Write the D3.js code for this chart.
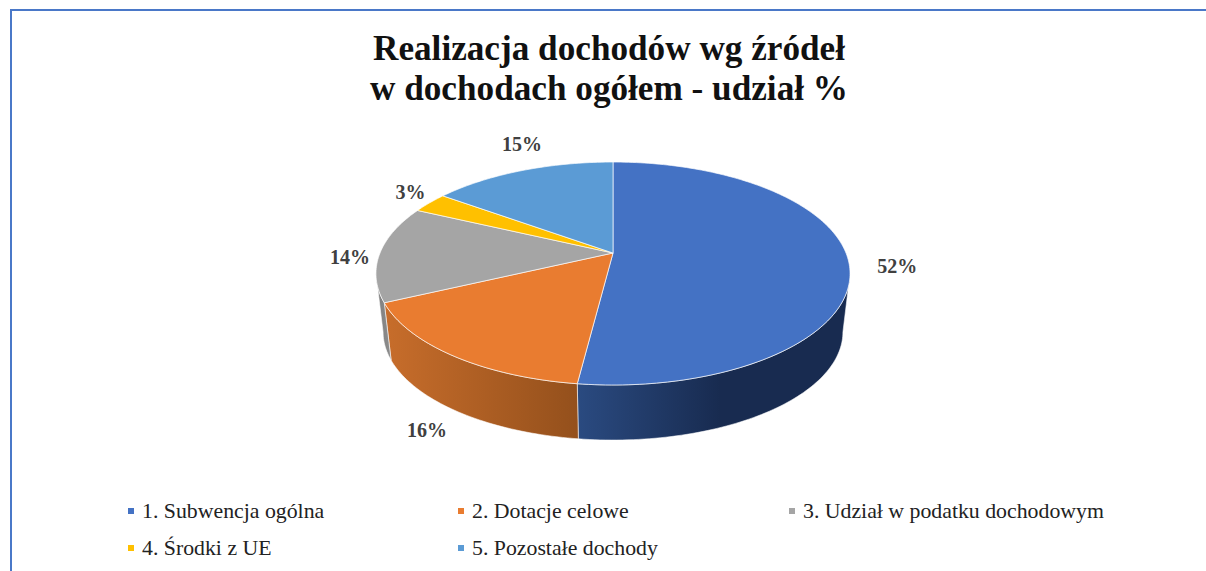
<!DOCTYPE html>
<html>
<head>
<meta charset="utf-8">
<script src="https://cdn.jsdelivr.net/npm/d3@7"></script>
<style>
  html, body { margin: 0; padding: 0; background: #fff; }
  svg { display: block; font-family: "Liberation Serif", serif; }
</style>
</head>
<body>
<svg id="chart"></svg>
<script>
// Chart data
var categories = ["1. Subwencja ogólna", "2. Dotacje celowe", "3. Udział w podatku dochodowym", "4. Środki z UE", "5. Pozostałe dochody"];
var values = [52, 16, 14, 3, 15];
var colors = ["#4472c4", "#e97c30", "#a5a5a5", "#ffc000", "#5b9bd5"];
var titleLines = ["Realizacja dochodów wg źródeł", "w dochodach ogółem - udział %"];

// SVG size params
var width = 1206;
var height = 571;

var svg = d3.select("#chart")
            .attr("width", width)
            .attr("height", height);

// Frame (only top and left edges are in the picture)
svg.append("path")
    .attr("d", "M11,571V10H1206")
    .attr("fill", "none")
    .attr("stroke", "#4a78c8")
    .attr("stroke-width", 2);

// Title
svg.append("g").selectAll("text")
    .data(titleLines)
  .enter().append("text")
    .attr("x", 609)
    .attr("y", (d, i) => 60 + i * 40)
    .attr("text-anchor", "middle")
    .attr("font-size", 35.2)
    .attr("font-weight", "bold")
    .attr("fill", "#111")
    .text(d => d);

// Perspective projection of the pie disc, k tilts the far edge away
var cx = 613, k = 0.184;
var topRim = {y0: 253, a: 233, b: 107.7};
var lowRim = {y0: 312, a: 226, b: 104.5};

function project(rim, theta, r) {
  var s = Math.sin(theta) * (r === undefined ? 1 : r);
  var c = Math.cos(theta) * (r === undefined ? 1 : r);
  var w = 1 + k * c;
  return [cx + rim.a * s / w, rim.y0 - rim.b * c / w];
}

function rimPoints(rim, a0, a1) {
  var n = Math.max(2, Math.ceil(Math.abs(a1 - a0) / 0.02));
  return d3.range(n + 1).map(i => project(rim, a0 + (a1 - a0) * i / n));
}

var line = d3.line();
var pie = d3.pie().sort(null).value(d => d);
var arcs = pie(values);

// Visible part of the outer wall runs between the two silhouette tangents
var wallStart = Math.acos(-k);
var wallEnd = 2 * Math.PI - wallStart;

// Wall gradients
var defs = svg.append("defs");
var wallStops = [
  [[579, "#2a4a80"], [720, "#182b50"]],
  [[385, "#c76d2b"], [578, "#94501c"]],
  [[377, "#7f7f7f"], [392, "#8e8e8e"]]
];
wallStops.forEach(function(stops, i) {
  var g = defs.append("linearGradient")
      .attr("id", "wall" + i)
      .attr("gradientUnits", "userSpaceOnUse")
      .attr("x1", stops[0][0]).attr("x2", stops[1][0])
      .attr("y1", 0).attr("y2", 0);
  stops.forEach(function(st, j) {
    g.append("stop").attr("offset", j).attr("stop-color", st[1]);
  });
});

var pieGroup = svg.append("g").style("filter", "blur(0.35px)");

// Outer walls
pieGroup.append("g").selectAll("path")
    .data(arcs.filter(d => d.startAngle < wallEnd && d.endAngle > wallStart))
  .enter().append("path")
    .attr("d", function(d) {
      var a0 = Math.max(d.startAngle, wallStart);
      var a1 = Math.min(d.endAngle, wallEnd);
      return line(rimPoints(topRim, a0, a1).concat(rimPoints(lowRim, a1, a0))) + "Z";
    })
    .attr("fill", d => "url(#wall" + d.index + ")")
    .attr("stroke", "#fff")
    .attr("stroke-opacity", 0.7)
    .attr("stroke-width", 0.8);

// Top slices
pieGroup.append("g").selectAll("path")
    .data(arcs)
  .enter().append("path")
    .attr("d", d => line([project(topRim, 0, 0)].concat(rimPoints(topRim, d.startAngle, d.endAngle))) + "Z")
    .attr("fill", d => colors[d.index])
    .attr("stroke", "#fff")
    .attr("stroke-opacity", 0.75)
    .attr("stroke-width", 0.9);

// Data labels, offset from the rim point at the middle of each slice
var labelOffsets = [[49, 13], [-25, 82], [-30, 11], [-19, -4], [0, -20]];
svg.append("g").selectAll("text")
    .data(arcs)
  .enter().append("text")
    .attr("x", d => project(topRim, (d.startAngle + d.endAngle) / 2)[0] + labelOffsets[d.index][0])
    .attr("y", d => project(topRim, (d.startAngle + d.endAngle) / 2)[1] + labelOffsets[d.index][1])
    .attr("text-anchor", "middle")
    .attr("font-size", 20)
    .attr("font-weight", "bold")
    .attr("fill", "#404040")
    .text(d => d.value + "%");

// Legend
var legendCol = d3.scaleOrdinal().domain([0, 1, 2]).range([142, 472, 803]);
var legendRow = d3.scaleOrdinal().domain([0, 1]).range([518, 555]);
var legend = svg.append("g").selectAll("g")
    .data(categories)
  .enter().append("g")
    .attr("transform", (d, i) => "translate(" + legendCol(i % 3) + "," + legendRow(Math.floor(i / 3)) + ")");

legend.append("rect")
    .attr("x", -14)
    .attr("y", -10)
    .attr("width", 6)
    .attr("height", 6)
    .attr("fill", (d, i) => colors[i]);

legend.append("text")
    .attr("font-size", 21.8)
    .attr("fill", "#222")
    .text(d => d);
</script>
</body>
</html>
